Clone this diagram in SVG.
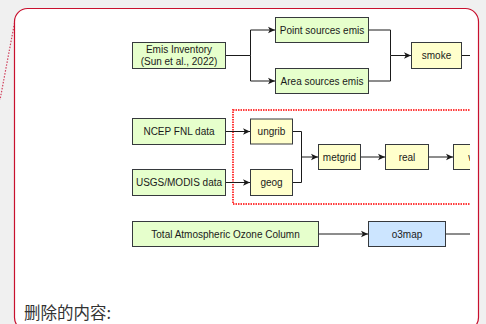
<svg xmlns="http://www.w3.org/2000/svg" width="486" height="324" viewBox="0 0 486 324">
<style>
.bg{fill:#f0f0f0}
.frame{fill:#ffffff;stroke:#c8102e;stroke-width:1.2}
.g{fill:#e6ffcc;stroke:#36393d;stroke-width:1}
.y{fill:#ffffcc;stroke:#36393d;stroke-width:1}
.b{fill:#cce5ff;stroke:#36393d;stroke-width:1}
.t{font-family:"Liberation Sans",Arial,sans-serif;font-size:10px;fill:#1a1a1a;text-anchor:middle}
.c{fill:none;stroke:#1a1a1a;stroke-width:1}
.grp{fill:none;stroke:#ff3b3b;stroke-width:2;stroke-dasharray:1.5 1}
.lead{fill:none;stroke:#d0405c;stroke-width:1.2;stroke-dasharray:1.5 1.5}
.cn{font-family:"Noto Sans CJK SC",sans-serif;font-size:16.5px;fill:#333333}
</style>
<defs>
<marker id="arr" markerWidth="8" markerHeight="8" refX="7" refY="4" orient="auto" markerUnits="userSpaceOnUse">
<path d="M0,0.8 L7,4 L0,7.2 L1.8,4 Z" fill="#1a1a1a"/>
</marker>
<clipPath id="clip"><rect x="0" y="0" width="470" height="324"/></clipPath>
</defs>
<rect class="bg" x="0" y="0" width="486" height="324"/>
<path class="lead" d="M14.5,23 L0,100"/>
<rect class="frame" x="14.5" y="8.5" width="464" height="322" rx="13" ry="13"/>
<g clip-path="url(#clip)">
<rect id="wps-group" class="grp" x="233" y="110" width="260" height="94"/>
<g id="connectors">
<path class="c" d="M226,55.5 H250.5 V30 H275" marker-end="url(#arr)"/>
<path class="c" d="M250.5,55.5 V81 H275" marker-end="url(#arr)"/>
<path class="c" d="M369,30 H390.5 V55.5 H411" marker-end="url(#arr)"/>
<path class="c" d="M369,81 H390.5 V55.5"/>
<path class="c" d="M462,55.5 H475"/>
<path class="c" d="M226,131.5 H250" marker-end="url(#arr)"/>
<path class="c" d="M226,182.5 H250" marker-end="url(#arr)"/>
<path class="c" d="M293,131.5 H301.5 V157 H318" marker-end="url(#arr)"/>
<path class="c" d="M293,182.5 H301.5 V157"/>
<path class="c" d="M361,157 H385" marker-end="url(#arr)"/>
<path class="c" d="M429,157 H453" marker-end="url(#arr)"/>
<path class="c" d="M318.5,234 H368" marker-end="url(#arr)"/>
<path class="c" d="M445.5,234 H475"/>
</g>
<g id="emis-inventory"><rect class="g" x="132.5" y="42.5" width="93" height="26"/><text class="t" x="179" y="53">Emis Inventory</text><text class="t" x="179" y="65">(Sun et al., 2022)</text></g>
<g id="point-sources"><rect class="g" x="275.5" y="17.5" width="93" height="25"/><text class="t" x="322" y="33.5">Point sources emis</text></g>
<g id="area-sources"><rect class="g" x="275.5" y="68.5" width="93" height="25"/><text class="t" x="322" y="84.5">Area sources emis</text></g>
<g id="smoke"><rect class="y" x="411.5" y="42.5" width="50" height="26"/><text class="t" x="436.5" y="59">smoke</text></g>
<g id="ncep"><rect class="g" x="132.5" y="118.5" width="93" height="26"/><text class="t" x="179" y="135">NCEP FNL data</text></g>
<g id="usgs"><rect class="g" x="132.5" y="169.5" width="93" height="26"/><text class="t" x="179" y="186">USGS/MODIS data</text></g>
<g id="ungrib"><rect class="y" x="250.5" y="119" width="42" height="25"/><text class="t" x="271.5" y="135">ungrib</text></g>
<g id="geog"><rect class="y" x="250.5" y="169.5" width="42" height="26"/><text class="t" x="271.5" y="186">geog</text></g>
<g id="metgrid"><rect class="y" x="318.5" y="144.5" width="42" height="25"/><text class="t" x="339.5" y="160.5">metgrid</text></g>
<g id="real"><rect class="y" x="385.5" y="144.5" width="43" height="25"/><text class="t" x="407" y="160.5">real</text></g>
<g id="wrf"><rect class="y" x="453.5" y="144.5" width="43" height="25"/><text class="t" x="475" y="160.5">wrf</text></g>
<g id="toms"><rect class="g" x="132.5" y="221.5" width="186" height="25"/><text class="t" x="225.5" y="237.5">Total Atmospheric Ozone Column</text></g>
<g id="o3map"><rect class="b" x="368.5" y="221.5" width="77" height="25"/><text class="t" x="407" y="237.5">o3map</text></g>
</g>
<text class="cn" x="24" y="319">删除的内容:</text>
</svg>
